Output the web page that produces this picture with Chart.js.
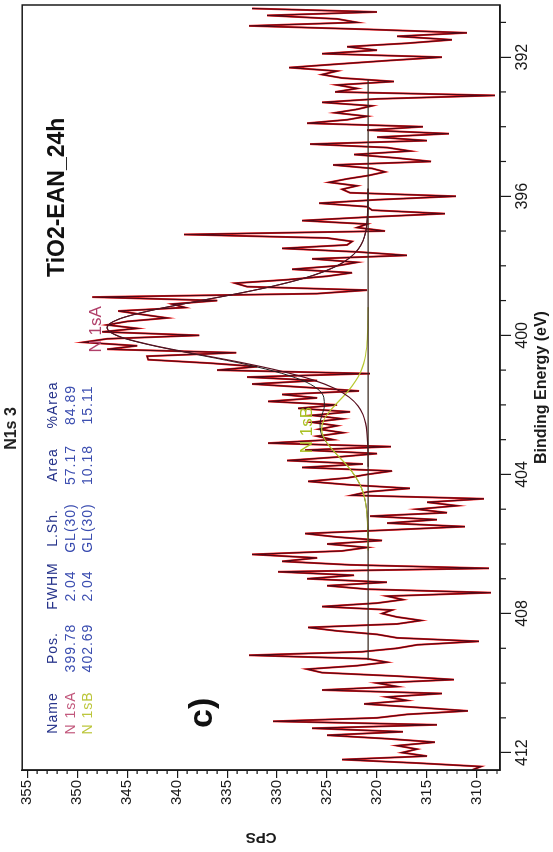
<!DOCTYPE html>
<html>
<head>
<meta charset="utf-8">
<script src="https://cdn.jsdelivr.net/npm/chart.js@4.4.1/dist/chart.umd.min.js"></script>
<style>
  html, body { margin: 0; padding: 0; background: #fff; overflow: hidden; }
  #wrap { position: absolute; left: 0; top: 0; width: 852px; height: 553px;
          transform-origin: 0 0; transform: translate(0, 852px) rotate(-90deg); }
</style>
</head>
<body>
<div id="wrap"><canvas id="xps" width="852" height="553"></canvas></div>
<script>
// binding energy (eV) of the measured points
var energies = [
    390.6,390.7,390.8,390.9,391.0,391.1,391.2,391.3,391.4,391.5,
    391.6,391.7,391.8,391.9,392.0,392.1,392.2,392.3,392.4,392.5,
    392.6,392.7,392.8,392.9,393.0,393.1,393.2,393.3,393.4,393.5,
    393.6,393.7,393.8,393.9,394.0,394.1,394.2,394.3,394.4,394.5,
    394.6,394.7,394.8,394.9,395.0,395.1,395.2,395.3,395.4,395.5,
    395.6,395.7,395.8,395.9,396.0,396.1,396.2,396.3,396.4,396.5,
    396.6,396.7,396.8,396.9,397.0,397.1,397.2,397.3,397.4,397.5,
    397.6,397.7,397.8,397.9,398.0,398.1,398.2,398.3,398.4,398.5,
    398.6,398.7,398.8,398.9,399.0,399.1,399.2,399.3,399.4,399.5,
    399.6,399.7,399.8,399.9,400.0,400.1,400.2,400.3,400.4,400.5,
    400.6,400.7,400.8,400.9,401.0,401.1,401.2,401.3,401.4,401.5,
    401.6,401.7,401.8,401.9,402.0,402.1,402.2,402.3,402.4,402.5,
    402.6,402.7,402.8,402.9,403.0,403.1,403.2,403.3,403.4,403.5,
    403.6,403.7,403.8,403.9,404.0,404.1,404.2,404.3,404.4,404.5,
    404.6,404.7,404.8,404.9,405.0,405.1,405.2,405.3,405.4,405.5,
    405.6,405.7,405.8,405.9,406.0,406.1,406.2,406.3,406.4,406.5,
    406.6,406.7,406.8,406.9,407.0,407.1,407.2,407.3,407.4,407.5,
    407.6,407.7,407.8,407.9,408.0,408.1,408.2,408.3,408.4,408.5,
    408.6,408.7,408.8,408.9,409.0,409.1,409.2,409.3,409.4,409.5,
    409.6,409.7,409.8,409.9,410.0,410.1,410.2,410.3,410.4,410.5,
    410.6,410.7,410.8,410.9,411.0,411.1,411.2,411.3,411.4,411.5,
    411.6,411.7,411.8,411.9,412.0,412.1,412.2,412.3,412.4,412.5
];
var counts = [
    332.5,320,331,324,322,332.8,321,311,318,312.5,
    317,323,320,325.5,313.5,319,324,328.8,324,325.5,
    323.5,318.3,324,322,324.2,308.2,320,325.5,320.5,322,
    324.2,321,323,327,315.4,321,312.8,320,315,326.7,
    319,316.7,322.3,318,314.6,324.4,320.5,319.2,320.8,323,
    324.8,322,323.5,322.7,312.1,320,325.8,321,320.5,313.2,
    321,327.5,321,322,319.2,339.3,325,322.5,323,329.5,
    322,317,326.5,322,324,328.5,322.5,325,329,334.2,
    333,321,326,348.5,336,340.5,339.2,345.9,343.5,341,
    345,347,344,347.5,337.8,347,349.4,344,347,334.1,
    343,342.9,336.7,332,336,320.7,333,326,332.5,326.9,
    321.8,329.5,326,330.9,324,327.9,322.7,326.5,323.5,326.5,
    324,325.8,323.4,326,324.4,330.9,318.6,327.2,320,324,
    329,321.4,327.5,318.5,321,323,326.9,322.7,316.7,320.9,
    322.5,309.3,315,312,316,313,320.7,314,319,311.2,
    319,327.2,324,319.5,325,321,323.5,332.5,326,329.5,
    322.7,308.8,329.9,322.3,327,319,325,321,308.6,319,
    317.4,320,325.5,318.5,319.5,318,315.6,318,326.9,324,
    320,318,309.8,316,318,321.5,332.8,321,319,322,
    327,325.5,318,312.3,320,318,325.5,313.5,319,317,
    321.3,316,310.9,317,320,330.4,314,326.5,317.4,325,
    319,314.2,318,316,317.5,315,323.5,316,309.6,310.5
];

// background of the fit region
var bgEnergies = [392.64, 409.34];
var bgCounts = [320.9, 320.9];

// component N 1sA
var peakAEnergies = [395.78,396.28,396.78,397.03,397.28,397.53,397.78,398.03,398.28,398.53,398.78,399.03,399.28,399.53,
    399.78,400.03,400.28,400.53,400.78,401.03,401.28,401.53,401.78,402.03,402.28,402.53,402.78,403.28,403.78];
var peakACounts = [320.9,320.92,321.01,321.14,321.4,321.9,322.78,324.21,326.43,329.59,333.61,338.18,342.56,345.8,
    347.0,345.8,342.56,338.18,333.61,329.59,326.43,324.21,322.78,321.9,321.4,321.14,321.01,320.92,320.9];

// component N 1sB
var peakBEnergies = [399.19,399.69,400.19,400.69,400.94,401.19,401.44,401.69,401.94,402.19,402.44,
    402.69,402.94,403.19,403.44,403.69,403.94,404.19,404.44,404.69,405.19,405.69,406.19];
var peakBCounts = [320.9,320.92,320.99,321.23,321.49,321.89,322.45,323.16,323.98,324.76,325.34,
    325.55,325.34,324.76,323.98,323.16,322.45,321.89,321.49,321.23,320.99,320.92,320.9];

// envelope
var envEnergies = [395.78,396.28,396.78,397.03,397.28,397.53,397.78,398.03,398.28,398.53,398.78,399.03,399.28,399.53,
    399.78,400.03,400.28,400.53,400.78,401.03,401.28,401.53,401.78,402.03,402.28,402.53,402.78,403.28,403.78,
    404.28,404.78,405.28,405.78];
var envCounts = [320.9,320.92,321.01,321.14,321.4,321.9,322.78,324.21,326.43,329.59,333.61,338.18,342.56,345.81,
    347.02,345.86,342.67,338.4,334.02,330.31,327.6,326.0,325.33,325.27,325.5,325.7,325.63,324.51,322.89,
    321.73,321.17,320.97,320.9];

var energyTicks = [392, 396, 400, 404, 408, 412];
var energyMinor = [391, 393, 394, 395, 397, 398, 399, 401, 402, 403, 405, 406, 407, 409, 410, 411];
var cpsTicks = [310, 315, 320, 325, 330, 335, 340, 345, 350, 355];
var cpsMinor = [308, 309, 311, 312, 313, 314, 316, 317, 318, 319, 321, 322, 323, 324, 326, 327, 328, 329,
    331, 332, 333, 334, 336, 337, 338, 339, 341, 342, 343, 344, 346, 347, 348, 349, 351, 352, 353, 354];

var tableHeader = ['Name', 'Pos.', 'FWHM', 'L.Sh.', 'Area', '%Area'];
var tableRowA = ['N 1sA', '399.78', '2.04', 'GL(30)', '57.17', '84.89'];
var tableRowB = ['N 1sB', '402.69', '2.04', 'GL(30)', '10.18', '15.11'];

var FONT = "'Liberation Sans', Arial, sans-serif";

function pairs(xs, ys) {
    var out = [];
    for (var i = 0; i < xs.length; i++) {
        out.push({x: xs[i], y: ys[i]});
    }
    return out;
}

var annotations = {
    id: 'annotations',
    afterDraw: function(chart) {
        var ctx = chart.ctx;
        var a = chart.chartArea;
        var xs = chart.scales.x;
        var ys = chart.scales.y;
        ctx.save();

        // minor ticks and frame
        ctx.strokeStyle = '#1a1a1a';
        ctx.lineWidth = 1.2;
        ctx.beginPath();
        energyMinor.forEach(function(v) {
            var px = xs.getPixelForValue(v);
            ctx.moveTo(px, a.bottom);
            ctx.lineTo(px, a.bottom + 6);
        });
        cpsMinor.forEach(function(v) {
            var py = ys.getPixelForValue(v);
            ctx.moveTo(a.left, py);
            ctx.lineTo(a.left - 4, py);
        });
        ctx.stroke();
        ctx.lineWidth = 1.5;
        ctx.strokeRect(a.left, a.top, a.right - a.left, a.bottom - a.top);

        // peak table
        var cols = [57, 122, 184, 242, 305, 365];
        var rows = [31, 48.5, 66];
        ctx.font = '14px ' + FONT;
        ctx.letterSpacing = '1px';
        ctx.textAlign = 'center';
        ctx.textBaseline = 'middle';
        for (var c = 0; c < cols.length; c++) {
            ctx.fillStyle = '#27348b';
            ctx.fillText(tableHeader[c], a.left + cols[c], a.top + rows[0]);
            ctx.fillStyle = c === 0 ? '#c2587c' : '#3b4db0';
            ctx.fillText(tableRowA[c], a.left + cols[c], a.top + rows[1]);
            ctx.fillStyle = c === 0 ? '#bcc63c' : '#3b4db0';
            ctx.fillText(tableRowB[c], a.left + cols[c], a.top + rows[2]);
        }
        ctx.letterSpacing = '0px';

        // sample name and panel letter
        ctx.fillStyle = '#111';
        ctx.textAlign = 'left';
        ctx.textBaseline = 'alphabetic';
        ctx.font = 'bold 23px ' + FONT;
        ctx.fillText('TiO2-EAN_24h', a.left + 493, a.top + 42);
        ctx.font = 'bold 34px ' + FONT;
        ctx.fillText('c)', a.left + 42, a.top + 190);

        // component labels
        ctx.font = '17px ' + FONT;
        ctx.fillStyle = '#b0406a';
        ctx.fillText('N 1sA', xs.getPixelForValue(400.49), ys.getPixelForValue(347.65));
        ctx.fillStyle = '#a8c020';
        ctx.fillText('N 1sB', xs.getPixelForValue(403.39), ys.getPixelForValue(326.5));
        ctx.restore();
    }
};

new Chart(document.getElementById('xps'), {
    type: 'scatter',
    data: {
        datasets: [
            {label: 'Background', data: pairs(bgEnergies, bgCounts), showLine: true,
             borderColor: '#3b2a20', borderWidth: 1.3, pointRadius: 0, order: 1},
            {label: 'N 1sA', data: pairs(peakAEnergies, peakACounts), showLine: true,
             borderColor: '#5a1020', borderWidth: 1.2, pointRadius: 0, cubicInterpolationMode: 'monotone', order: 2},
            {label: 'N 1sB', data: pairs(peakBEnergies, peakBCounts), showLine: true,
             borderColor: '#b8c830', borderWidth: 1.2, pointRadius: 0, cubicInterpolationMode: 'monotone', order: 3},
            {label: 'Envelope', data: pairs(envEnergies, envCounts), showLine: true,
             borderColor: '#222222', borderWidth: 1, pointRadius: 0, cubicInterpolationMode: 'monotone', order: 4},
            {label: 'Data', data: pairs(energies, counts), showLine: true,
             borderColor: '#4e0816', borderWidth: 1.2, pointRadius: 0, order: 5},
            {label: 'Data red', data: pairs(energies, counts), showLine: true,
             borderColor: '#ff2020', borderWidth: 2, pointRadius: 0, order: 6}
        ]
    },
    options: {
        responsive: false,
        animation: false,
        layout: {padding: {left: 0, right: 5, top: 0, bottom: 0}},
        plugins: {
            legend: {display: false},
            tooltip: {enabled: false},
            title: {
                display: true,
                text: 'N1s 3',
                color: '#222',
                font: {family: FONT, size: 16, weight: 'bold'},
                padding: {top: 2, bottom: 1}
            }
        },
        scales: {
            x: {
                type: 'linear',
                reverse: true,
                min: 390.5,
                max: 412.5,
                afterBuildTicks: function(scale) {
                    scale.ticks = energyTicks.map(function(v) { return {value: v}; });
                },
                afterFit: function(scale) { scale.height = 53; },
                grid: {drawOnChartArea: false, drawTicks: true, tickLength: 11, color: '#1a1a1a', lineWidth: 1.2},
                border: {display: true, color: '#1a1a1a', width: 1.5},
                ticks: {color: '#1a1a1a', font: {family: FONT, size: 16}, padding: 2, maxRotation: 0},
                title: {display: true, text: 'Binding Energy (eV)', color: '#1a1a1a',
                        font: {family: FONT, size: 16, weight: 'bold'}, padding: {top: 0, bottom: 2}}
            },
            y: {
                type: 'linear',
                min: 307.7,
                max: 355.5,
                afterBuildTicks: function(scale) {
                    scale.ticks = cpsTicks.map(function(v) { return {value: v}; });
                },
                afterFit: function(scale) { scale.width = 82; },
                grid: {drawOnChartArea: false, drawTicks: true, tickLength: 8, color: '#1a1a1a', lineWidth: 1.2},
                border: {display: true, color: '#1a1a1a', width: 1.5},
                ticks: {color: '#1a1a1a', font: {family: FONT, size: 15}, padding: 2},
                title: {display: true, text: 'CPS', color: '#1a1a1a',
                        font: {family: FONT, size: 15, weight: 'bold'}, padding: {top: 6, bottom: 0}}
            }
        }
    },
    plugins: [annotations]
});
</script>
</body>
</html>
